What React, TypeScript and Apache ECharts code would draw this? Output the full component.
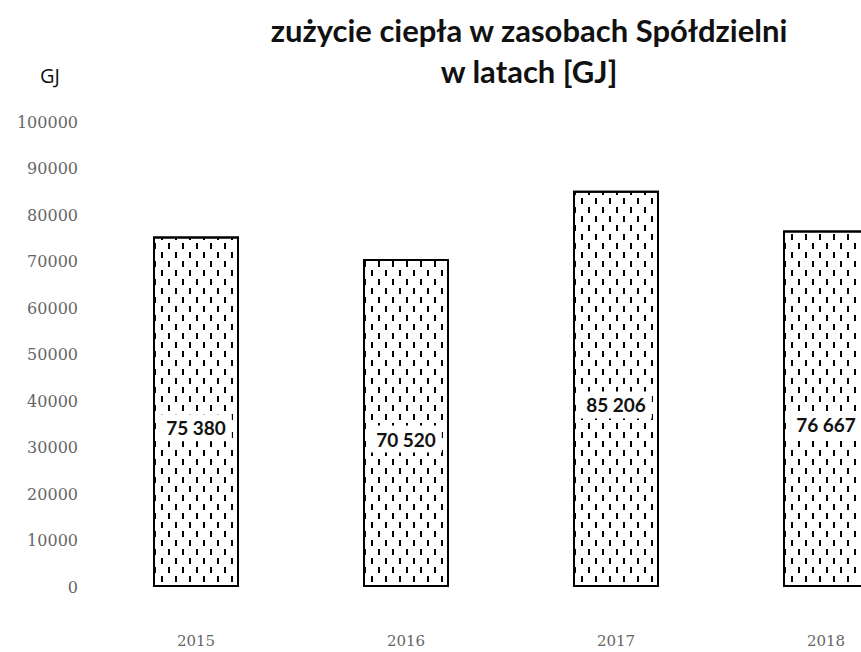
import React, { useEffect, useRef } from "react";
import * as echarts from "echarts";

const years = ["2015", "2016", "2017", "2018"];
const heatUse = [75380, 70520, 85206, 76667];
const titleText = "zużycie ciepła w zasobach Spółdzielni\nw latach [GJ]";
const unitLabel = "GJ";

const fmt = (v: number) => String(v).replace(/\B(?=(\d{3})+(?!\d))/g, " ");

export default function App() {
  const ref = useRef<HTMLDivElement>(null);
  useEffect(() => {
    if (!ref.current) return;
    const chart = echarts.init(ref.current, null, { renderer: "svg" });
    chart.setOption({
      animation: false,
      backgroundColor: "#fff",
      title: {
        text: titleText,
        left: 524,
        top: 4,
        textAlign: "center",
        textStyle: {
          fontFamily: "Lato",
          fontWeight: "bold",
          fontSize: 31,
          lineHeight: 41,
          color: "#111",
        },
      },
      graphic: [
        {
          type: "text",
          left: 40,
          top: 65,
          style: { text: unitLabel, font: "20px 'Open Sans'", fill: "#111" },
        },
      ],
      grid: { left: 91, top: 122, width: 840, height: 465 },
      xAxis: {
        type: "category",
        data: years,
        axisLine: { show: false },
        axisTick: { show: false },
        axisLabel: {
          margin: 46,
          fontFamily: "DejaVu Serif",
          fontSize: 15,
          color: "#666",
        },
      },
      yAxis: {
        type: "value",
        min: 0,
        max: 100000,
        interval: 10000,
        splitLine: { show: false },
        axisLine: { show: false },
        axisTick: { show: false },
        axisLabel: {
          margin: 13,
          fontFamily: "DejaVu Serif",
          fontSize: 16,
          color: "#666",
          formatter: (v: number) => String(v),
        },
      },
      series: [
        {
          type: "bar",
          data: heatUse,
          barWidth: 86,
          itemStyle: {
            color: "#fff",
            borderColor: "#000",
            borderWidth: 2,
            decal: {
              symbol: "rect",
              symbolSize: 1,
              color: "#000",
              backgroundColor: "#fff",
              dashArrayX: [[2, 12], [0, 7, 2, 5]],
              dashArrayY: [6, 3],
            },
          },
          label: {
            show: true,
            position: "inside",
            offset: [0, 16],
            formatter: (p: any) => fmt(p.value),
            fontFamily: "Lato",
            fontWeight: "bold",
            fontSize: 19,
            color: "#111",
            backgroundColor: "#fff",
            padding: [4, 6],
          },
        },
      ],
    });
    return () => chart.dispose();
  }, []);
  return (
    <div
      style={{
        position: "absolute",
        left: 0,
        top: 0,
        width: 861,
        height: 652,
        overflow: "hidden",
      }}
    >
      <div ref={ref} style={{ width: 940, height: 652 }} />
    </div>
  );
}
